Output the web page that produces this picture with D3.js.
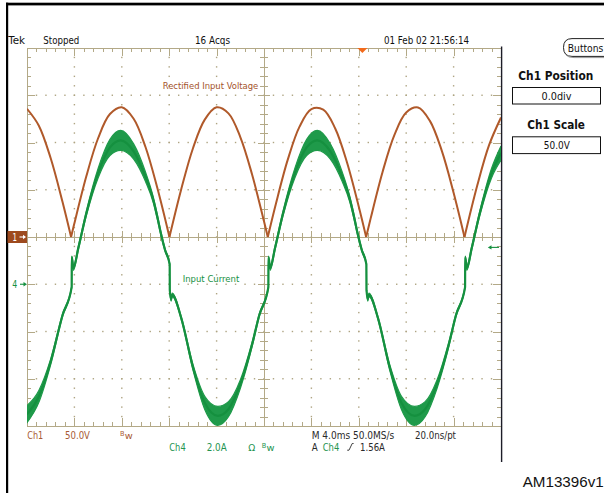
<!DOCTYPE html>
<html><head><meta charset="utf-8">
<script src="https://cdn.jsdelivr.net/npm/d3@7"></script>
<style>html,body{margin:0;padding:0;background:#fff;overflow:hidden}</style>
</head><body>
<svg id="c" width="604" height="493"></svg>
<script>
// ---- Data ----
// Ch1: rectified input voltage (V), time in ms across the 10-division screen (4 ms/div)
const voltTime  = [0,1,2,3,3.72,4,5,6,7,8,9,10,11,12.02,13,14,15,16,17,18,19,20,20.32,21,22,23,24,25,26,27,28,28.62,29,30,31,32,33,34,35,36,36.92,38,39,40];
const voltValue = [135.7,117.8,83.3,37.0,0,14.5,64.0,104.5,130.1,137.3,125.1,95.2,51.8,0,49.8,93.7,124.2,137.2,130.8,105.8,65.9,16.6,0,35.0,81.6,116.8,135.3,134.7,115.1,79.1,32.0,0,19.7,68.6,107.8,131.7,137.0,122.9,91.4,46.9,0,54.7,97.4,126.4];
// Ch4: input current (A) and the half-width of its noisy envelope (A)
const currTime   = [0,1,2,3,3.77,3.78,3.92,4.33,5,6,7,7.9,9,10,10.66,11,11.3,11.65,12.04,12.05,12.16,12.26,13,14,15,16.1,17,18,19,19.6,20.37,20.38,20.52,20.93,21.6,22.6,23.6,24.5,25.6,26.6,27.26,27.6,27.9,28.25,28.64,28.65,28.76,28.86,29.6,30.6,31.6,32.7,33.6,34.6,35.6,36.2,36.97,36.98,37.12,37.53,38.2,39.2,40];
const currValue  = [-5.50,-4.75,-3.28,-1.31,-0.12,1.15,0.69,1.53,2.98,4.70,5.79,6.09,5.62,4.55,3.57,2.85,2.15,1.45,0.85,-0.25,-0.62,-0.45,-1.40,-3.50,-5.02,-5.57,-5.29,-4.23,-2.54,-1.31,-0.12,1.15,0.69,1.53,2.98,4.70,5.79,6.09,5.62,4.55,3.57,2.85,2.15,1.45,0.85,-0.25,-0.62,-0.45,-1.40,-3.50,-5.02,-5.57,-5.29,-4.23,-2.54,-1.31,-0.12,1.15,0.69,1.53,2.98,4.70,5.55];
const currSpread = [0.36,0.25,0.12,0.06,0.04,0.04,0.10,0.08,0.10,0.20,0.34,0.42,0.32,0.20,0.12,0.10,0.08,0.06,0.04,0.04,0.10,0.08,0.06,0.12,0.28,0.40,0.32,0.18,0.10,0.06,0.04,0.04,0.10,0.08,0.10,0.20,0.34,0.42,0.32,0.20,0.12,0.10,0.08,0.06,0.04,0.04,0.10,0.08,0.06,0.12,0.28,0.40,0.32,0.18,0.10,0.06,0.04,0.04,0.10,0.08,0.10,0.20,0.30];
// Text
const headerLabels = ["Tek","Stopped","16 Acqs","01 Feb 02 21:56:14"];
const sideLabels   = ["Buttons","Ch1 Position","0.0div","Ch1 Scale","50.0V"];
const ch1Labels    = ["Ch1","50.0V"];
const ch4Labels    = ["Ch4","2.0A","\u03A9"];
const timeLabels   = ["M 4.0ms 50.0MS/s","20.0ns/pt"];
const trigLabels   = ["A","Ch4","1.56A"];
const traceLabels  = ["Rectified Input Voltage","Input Current"];
const figureId     = "AM13396v1";
const triggerLevel = 1.56; // A
const triggerTime  = 28.3;  // ms (trigger position marker)

// ---- Setup ----
const svg = d3.select("#c");
const x  = d3.scaleLinear().domain([0,40]).range([27,501]);
const yV = d3.scaleLinear().domain([-200,200]).range([426,48]);
const yI = d3.scaleLinear().domain([-6,10]).range([426,48]);

const FONT = "'Liberation Sans Narrow','Arial Narrow','DejaVu Sans Condensed','Liberation Sans',sans-serif";
const GRID = "#b3a987";
const BROWN = "#b0592a";
const BROWN_TXT = "#a4532b";
const GREEN = "#15903f";

function txt(g, xx, yy, s, o={}) {
  const t = g.append("text").attr("x", xx).attr("y", yy).text(s)
    .attr("font-family", o.family || FONT)
    .attr("font-size", o.size || 10)
    .attr("font-weight", o.weight || "normal")
    .attr("fill", o.fill || "#111")
    .attr("text-anchor", o.anchor || "start");
  if (o.w) t.attr("textLength", o.w).attr("lengthAdjust", "spacingAndGlyphs");
  return t;
}

// Outer black frame
svg.append("rect").attr("x",6).attr("y",2.7).attr("width",598).attr("height",2.7).attr("fill","#000");
svg.append("rect").attr("x",6).attr("y",2.7).attr("width",2.2).attr("height",490.3).attr("fill","#000");

// ---- Graticule ----
const minorT = d3.range(0,51).map(i=>i*0.8);
const majorT = d3.range(0,11).map(i=>i*4);
const minorV = d3.range(0,41).map(i=>-200+i*10);
const majorV = d3.range(0,9).map(i=>-200+i*50);

const grid = svg.append("g");
// dotted division lines
const dots = grid.append("g").attr("fill", "#aea482");
majorT.filter(t=>t>0 && t<40 && t!==20).forEach(t=>{
  minorV.filter(v=>v>-200 && v<200).forEach(v=>{
    dots.append("rect").attr("x", x(t)-0.7).attr("y", yV(v)-0.7).attr("width",1.4).attr("height",1.4);
  });
});
majorV.filter(v=>v>-200 && v<200 && v!==0).forEach(v=>{
  minorT.filter(t=>t>0 && t<40).forEach(t=>{
    dots.append("rect").attr("x", x(t)-0.7).attr("y", yV(v)-0.7).attr("width",1.4).attr("height",1.4);
  });
});

function styleAxis(g, keepDomain) {
  g.selectAll("text").remove();
  g.selectAll("line").attr("stroke", GRID).attr("stroke-width",1);
  if (keepDomain) g.select(".domain").attr("stroke", GRID).attr("stroke-width",1.2);
  else g.select(".domain").remove();
  g.attr("shape-rendering","crispEdges");
}
function axisPair(gen, transform, minorVals, majorVals, minorLen, majorLen, keep) {
  const a = grid.append("g").attr("transform", transform)
    .call(gen().tickValues(minorVals).tickSize(minorLen).tickSizeOuter(0).tickFormat(""));
  styleAxis(a, keep);
  const b = grid.append("g").attr("transform", transform)
    .call(gen().tickValues(majorVals).tickSize(majorLen).tickSizeOuter(0).tickFormat(""));
  styleAxis(b, false);
}
// edges
axisPair(()=>d3.axisBottom(x), "translate(0,48)",  minorT, majorT, 4, 8, true);
axisPair(()=>d3.axisTop(x),    "translate(0,426)", minorT, majorT, 4, 8, true);
axisPair(()=>d3.axisRight(yV), "translate(27,0)",  minorV, majorV, 4, 8, true);
axisPair(()=>d3.axisLeft(yV),  "translate(501,0)", minorV, majorV, 4, 8, true);
// center cross
axisPair(()=>d3.axisBottom(x), `translate(0,${yV(0)})`, minorT, majorT, 4, 6, true);
axisPair(()=>d3.axisTop(x),    `translate(0,${yV(0)})`, minorT, majorT, 4, 6, true);
axisPair(()=>d3.axisRight(yV), `translate(${x(20)},0)`, minorV, majorV, 4, 6, true);
axisPair(()=>d3.axisLeft(yV),  `translate(${x(20)},0)`, minorV, majorV, 4, 6, true);

// screen right border
svg.append("line").attr("x1",501.6).attr("x2",501.6).attr("y1",46.5).attr("y2",462)
  .attr("stroke","#1d1d28").attr("stroke-width",1.4);

// ---- Traces ----
svg.append("clipPath").attr("id","plotclip").append("rect")
  .attr("x",27).attr("y",47).attr("width",474).attr("height",380);
const traces = svg.append("g").attr("clip-path","url(#plotclip)");

const volt = voltTime.map((t,i)=>({t, v:voltValue[i]}));
const arches = []; let cur = [];
volt.forEach(d=>{ cur.push(d); if (d.v===0 && cur.length>1){ arches.push(cur); cur=[d]; } });
if (cur.length>1) arches.push(cur);
const vLine = d3.line().x(d=>x(d.t)).y(d=>yV(d.v)).curve(d3.curveCatmullRom.alpha(0.5));
arches.forEach(a=>{
  traces.append("path").attr("d", vLine(a)).attr("fill","none")
    .attr("stroke", BROWN).attr("stroke-width",2).attr("stroke-linejoin","round");
});

const curr = currTime.map((t,i)=>({t, v:currValue[i], s:currSpread[i]}));
const cArea = d3.area().x(d=>x(d.t)).y0(d=>yI(d.v-d.s)).y1(d=>yI(d.v+d.s)).curve(d3.curveMonotoneX);
const cLine = d3.line().x(d=>x(d.t)).y(d=>yI(d.v)).curve(d3.curveMonotoneX);
traces.append("path").attr("d", cArea(curr)).attr("fill","#1f9a4a").attr("stroke","#1f9a4a").attr("stroke-width",1.2);
traces.append("path").attr("d", cLine(curr)).attr("fill","none").attr("stroke",GREEN).attr("stroke-width",2.2);

// ---- Markers ----
// trigger position (orange)
const tx = x(triggerTime);
svg.append("path").attr("d", `M${tx-5},48 L${tx+5},48 L${tx},53 Z`).attr("fill","#f26a1b");
// Ch1 ground marker
svg.append("rect").attr("x",7.5).attr("y",yV(0)-6).attr("width",19.5).attr("height",12).attr("fill","#9d4a1e");
txt(svg, 12.5, yV(0)+3.8, "1", {fill:"#fff", size:10, w:4.5});
svg.append("line").attr("x1",19.5).attr("x2",25).attr("y1",yV(0)).attr("y2",yV(0)).attr("stroke","#fff").attr("stroke-width",1.1);
svg.append("path").attr("d",`M26,${yV(0)} L23,${yV(0)-2.2} L23,${yV(0)+2.2} Z`).attr("fill","#fff");
// Ch4 ground marker
txt(svg, 12.3, yI(0)+3.8, "4", {fill:GREEN, size:10, w:5});
svg.append("line").attr("x1",20).attr("x2",25).attr("y1",yI(0)).attr("y2",yI(0)).attr("stroke",GREEN).attr("stroke-width",1.1);
svg.append("path").attr("d",`M27,${yI(0)} L23.5,${yI(0)-2.2} L23.5,${yI(0)+2.2} Z`).attr("fill",GREEN);
// trigger level (right)
const tl = yI(triggerLevel);
svg.append("line").attr("x1",491).attr("x2",499).attr("y1",tl).attr("y2",tl).attr("stroke",GREEN).attr("stroke-width",1.1);
svg.append("path").attr("d",`M487.8,${tl} L491.5,${tl-2.2} L491.5,${tl+2.2} Z`).attr("fill",GREEN);

// ---- In-plot labels ----
txt(svg, 162.7, 89.3, traceLabels[0], {fill:BROWN_TXT, size:9.5, w:95.6});
txt(svg, 182.7, 281.8, traceLabels[1], {fill:GREEN, size:9.5, w:56.6});

// ---- Header ----
txt(svg, 8.3, 43.5, headerLabels[0], {size:10, w:16.7});
txt(svg, 43.3, 43.5, headerLabels[1], {size:10, w:36});
txt(svg, 195, 43.5, headerLabels[2], {size:10, w:35});
txt(svg, 384, 43.5, headerLabels[3], {size:10, w:85});

// ---- Side panel ----
svg.append("path").attr("d","M572,38.6 L604,38.6 M572,38.6 Q563.5,38.6 563.5,47.5 Q563.5,56.4 572,56.4 L604,56.4")
  .attr("fill","none").attr("stroke","#222").attr("stroke-width",1);
svg.append("path").attr("d","M566,55 Q568,57.6 574,57.6 L604,57.6").attr("fill","none").attr("stroke","#999").attr("stroke-width",1);
txt(svg, 567.8, 51.5, sideLabels[0], {size:10, w:35.5});
txt(svg, 518.3, 80, sideLabels[1], {size:11.5, weight:"bold", w:75});
svg.append("rect").attr("x",512.5).attr("y",87.5).attr("width",88).attr("height",16.5)
  .attr("fill","#fff").attr("stroke","#111").attr("stroke-width",1);
txt(svg, 556.5, 100, sideLabels[2], {size:10, anchor:"middle", w:30});
txt(svg, 527.3, 129, sideLabels[3], {size:11.5, weight:"bold", w:57.7});
svg.append("rect").attr("x",512.5).attr("y",136.8).attr("width",88).attr("height",16.8)
  .attr("fill","#fff").attr("stroke","#111").attr("stroke-width",1);
txt(svg, 556.8, 149.3, sideLabels[4], {size:10, anchor:"middle", w:26});

// ---- Footer ----
const CH1C = "#a85a34";
txt(svg, 27.3, 438.6, ch1Labels[0], {fill:CH1C, size:10, w:16});
txt(svg, 65, 438.6, ch1Labels[1], {fill:CH1C, size:10, w:25});
txt(svg, 120, 435.5, "B", {fill:CH1C, size:7, w:4.5});
txt(svg, 124.8, 438.6, "w", {fill:CH1C, size:8.5, w:8});

const CH4C = "#239350";
txt(svg, 169.3, 450.6, ch4Labels[0], {fill:CH4C, size:10, w:16.4});
txt(svg, 206.7, 450.6, ch4Labels[1], {fill:CH4C, size:10, w:20});
txt(svg, 248.3, 450.6, ch4Labels[2], {fill:CH4C, size:9.5, w:7});
txt(svg, 261.7, 447.5, "B", {fill:CH4C, size:7, w:4.5});
txt(svg, 266.5, 450.6, "w", {fill:CH4C, size:8.5, w:8});

const DARK = "#2a2a2a";
txt(svg, 311.7, 438.6, timeLabels[0], {fill:DARK, size:10, w:82.6});
txt(svg, 415, 438.6, timeLabels[1], {fill:DARK, size:10, w:41});
txt(svg, 311.7, 450.6, trigLabels[0], {fill:DARK, size:10, w:6});
txt(svg, 322.7, 450.6, trigLabels[1], {fill:CH4C, size:10, w:16.6});
svg.append("path").attr("d","M347.2,450.2 L349,450.2 L352.2,443.5 L353.6,443.5").attr("fill","none").attr("stroke",DARK).attr("stroke-width",0.9);
txt(svg, 360, 450.6, trigLabels[2], {fill:DARK, size:10, w:25});

txt(svg, 522.7, 487.3, figureId, {family:"'Liberation Sans',Arial,sans-serif", size:15, fill:"#111", w:81});
</script>
</body></html>
